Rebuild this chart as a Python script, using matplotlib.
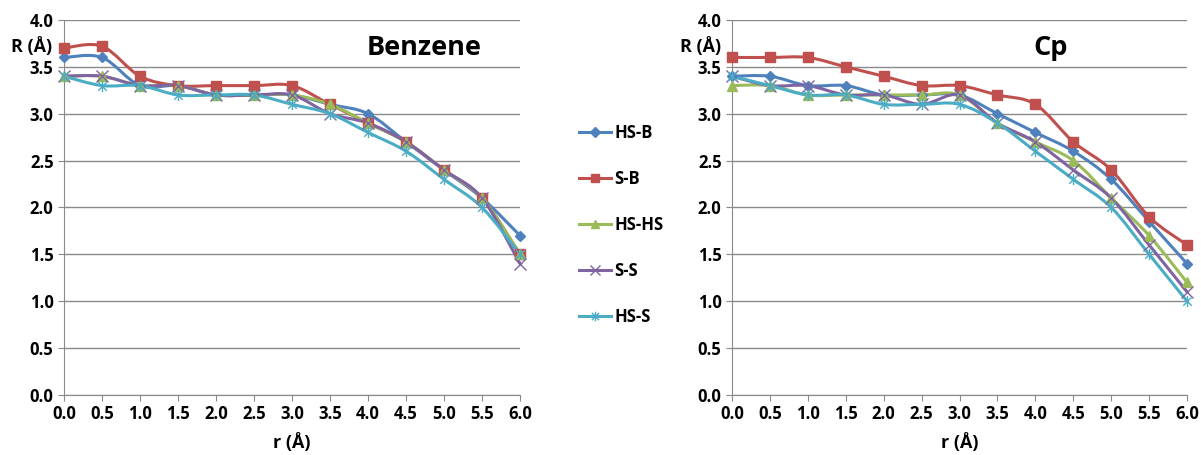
import numpy as np
import matplotlib
matplotlib.use('Agg')
import matplotlib.pyplot as plt
from matplotlib.lines import Line2D
from matplotlib.path import Path
from matplotlib.patches import PathPatch

plt.rcParams['font.family'] = ['Open Sans', 'DejaVu Sans']
plt.rcParams['font.weight'] = 'bold'

# data
r = [0.0, 0.5, 1.0, 1.5, 2.0, 2.5, 3.0, 3.5, 4.0, 4.5, 5.0, 5.5, 6.0]
series_names = ['HS-B', 'S-B', 'HS-HS', 'S-S', 'HS-S']

benzene_hs_b = [3.6, 3.6, 3.3, 3.3, 3.2, 3.2, 3.2, 3.1, 3.0, 2.7, 2.4, 2.1, 1.7]
benzene_s_b = [3.7, 3.72, 3.4, 3.3, 3.3, 3.3, 3.3, 3.1, 2.9, 2.7, 2.4, 2.1, 1.5]
benzene_hs_hs = [3.4, 3.4, 3.3, 3.3, 3.2, 3.2, 3.2, 3.1, 2.9, 2.7, 2.4, 2.1, 1.5]
benzene_s_s = [3.4, 3.4, 3.3, 3.3, 3.2, 3.2, 3.2, 3.0, 2.9, 2.7, 2.4, 2.1, 1.4]
benzene_hs_s = [3.4, 3.3, 3.3, 3.2, 3.2, 3.2, 3.1, 3.0, 2.8, 2.6, 2.3, 2.0, 1.5]

cp_hs_b = [3.4, 3.4, 3.3, 3.3, 3.2, 3.2, 3.2, 3.0, 2.8, 2.6, 2.3, 1.85, 1.4]
cp_s_b = [3.6, 3.6, 3.6, 3.5, 3.4, 3.3, 3.3, 3.2, 3.1, 2.7, 2.4, 1.9, 1.6]
cp_hs_hs = [3.3, 3.3, 3.2, 3.2, 3.2, 3.2, 3.2, 2.9, 2.7, 2.5, 2.1, 1.7, 1.2]
cp_s_s = [3.4, 3.3, 3.3, 3.2, 3.2, 3.1, 3.2, 2.9, 2.7, 2.4, 2.1, 1.6, 1.1]
cp_hs_s = [3.4, 3.3, 3.2, 3.2, 3.1, 3.1, 3.1, 2.9, 2.6, 2.3, 2.0, 1.5, 1.0]

colors = ['#4F81BD', '#C0504D', '#9BBB59', '#8064A2', '#4BACC6']

# excel style star: x plus a vertical bar
star = Path([(-1, -1), (1, 1), (-1, 1), (1, -1), (0, -1.3), (0, 1.3)],
            [Path.MOVETO, Path.LINETO, Path.MOVETO, Path.LINETO, Path.MOVETO, Path.LINETO])
markers = ['D', 's', '^', 'x', star]
msizes = [5.5, 7.5, 7.5, 8, 8]


def smooth_path(x, y, t=1/6):
    # catmull-rom style bezier, like excel's smoothed lines
    pts = np.column_stack([x, y]).astype(float)
    n = len(pts)
    verts = [pts[0]]
    codes = [Path.MOVETO]
    for i in range(n - 1):
        p0 = pts[max(i - 1, 0)]
        p1 = pts[i]
        p2 = pts[i + 1]
        p3 = pts[min(i + 2, n - 1)]
        verts += [p1 + (p2 - p0) * t, p2 - (p3 - p1) * t, p2]
        codes += [Path.CURVE4] * 3
    return Path(verts, codes)


def draw_panel(ax, data, title, title_x):
    for y, c, m, ms in zip(data, colors, markers, msizes):
        ax.add_patch(PathPatch(smooth_path(r, y), facecolor='none', edgecolor=c,
                               lw=2.2, transform=ax.transData, clip_on=False, zorder=3))
        ax.plot(r, y, linestyle='none', marker=m, color=c, markersize=ms,
                markeredgewidth=1.0, clip_on=False, zorder=4)
    ax.set_xlim(0, 6)
    ax.set_ylim(0, 4)
    ax.set_xticks(np.arange(0, 6.01, 0.5))
    ax.set_yticks(np.arange(0, 4.01, 0.5))
    ax.xaxis.set_major_formatter(matplotlib.ticker.FormatStrFormatter('%.1f'))
    ax.yaxis.set_major_formatter(matplotlib.ticker.FormatStrFormatter('%.1f'))
    ax.grid(axis='y', color='#8a8a8a', lw=1)
    ax.set_axisbelow(True)
    for s in ['top', 'right']:
        ax.spines[s].set_visible(False)
    for s in ['left', 'bottom']:
        ax.spines[s].set_color('#8a8a8a')
    ax.tick_params(colors='#8a8a8a', labelcolor='black', labelsize=12, length=4)
    for lab in ax.get_xticklabels() + ax.get_yticklabels():
        lab.set_fontweight('bold')
    ax.text(-0.025, 0.93, 'R (Å)', transform=ax.transAxes, ha='right', va='center',
            fontsize=13, fontweight='bold')
    ax.set_xlabel('r (Å)', fontsize=13, fontweight='bold', labelpad=7)
    ax.text(title_x, 0.925, title, transform=ax.transAxes, ha='center', va='center',
            fontsize=19.5, fontweight='bold')


fig = plt.figure(figsize=(12.01, 4.55), dpi=100)
ax1 = fig.add_axes([0.0533, 0.1319, 0.3797, 0.8242])
ax2 = fig.add_axes([0.6095, 0.1319, 0.3789, 0.8242])

draw_panel(ax1, [benzene_hs_b, benzene_s_b, benzene_hs_hs, benzene_s_s, benzene_hs_s],
           'Benzene', 0.79)
draw_panel(ax2, [cp_hs_b, cp_s_b, cp_hs_hs, cp_s_s, cp_hs_s], 'Cp', 0.70)

handles = [Line2D([0], [0], color=c, marker=m, markersize=ms * 0.85, lw=2.2, label=n)
           for c, m, ms, n in zip(colors, markers, msizes, series_names)]
fig.legend(handles=handles, loc='center left', bbox_to_anchor=(0.47, 0.505),
           frameon=False, handlelength=1.9, handletextpad=0.2, labelspacing=1.68,
           prop={'weight': 'bold', 'size': 12})

fig.savefig('out.png', dpi=100)
